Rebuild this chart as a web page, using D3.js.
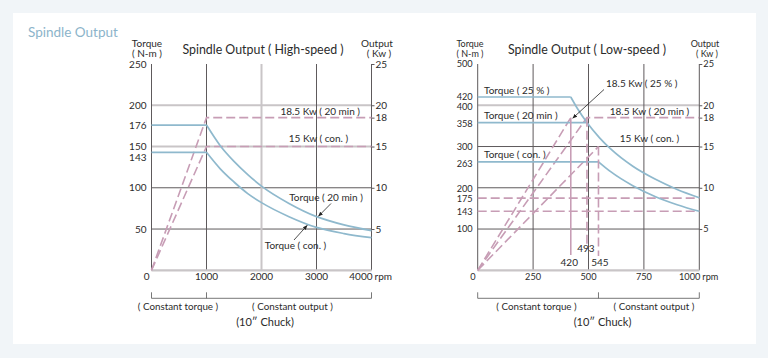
<!DOCTYPE html>
<html><head><meta charset="utf-8">
<script src="https://cdn.jsdelivr.net/npm/d3@7"></script>
<style>
html,body{margin:0;padding:0;background:#f1f5f8;}
svg{display:block;font-family:Lato,"Noto Sans",sans-serif;}
</style></head><body>
<svg id="c" width="768" height="358"></svg>
<script>
// ---------- DATA ----------
// High-speed chart
const hsRpmTicks = [0, 1000, 2000, 3000, 4000];
const hsTorqueTicks = [250, 200, 176, 150, 143, 100, 50];
const hsOutputTickValues = [25, 20, 18.5, 15, 10, 5];
const hsOutputTickLabels = ["25", "20", "18", "15", "10", "5"];
const hsTorque20min = [[0,176],[1000,176],[1250,151],[1500,132],[1750,116],[2000,102],[2500,81],[3000,65],[3500,55],[4000,48]];
const hsTorqueCon   = [[0,143],[1000,143],[1250,123],[1500,107],[1750,93],[2000,82],[2500,65],[3000,52],[3500,44.5],[4000,39.5]];
const hsPower20min  = [[0,0],[1000,18.5],[4000,18.5]];
const hsPowerCon    = [[0,0],[1000,15],[4000,15]];

// Low-speed chart
const lsRpmTicks = [0, 250, 500, 750, 1000];
const lsTorqueTicks = [500, 420, 400, 358, 300, 263, 200, 175, 143, 100];
const lsOutputTickValues = [25, 20, 18.5, 15, 10, 5];
const lsOutputTickLabels = ["25", "20", "18", "15", "10", "5"];
const lsTorque25    = [[0,420],[420,420],[450,392],[493,358],[550,321],[600,294],[700,252],[800,221],[900,196],[1000,176]];
const lsTorque20min = [[0,358],[493,358]];
const lsTorqueCon   = [[0,263],[545,263],[600,239],[700,205],[800,179],[900,159],[1000,143]];
const lsPower25     = [[0,0],[420,18.5]];
const lsPower20min  = [[0,0],[493,18.5],[1000,18.5]];
const lsPowerCon    = [[0,0],[545,15]];
const lsRefTorques  = [175, 143];
const lsCornerRpms  = [420, 493, 545];

// ---------- STYLE ----------
const BLUE = "#8fb9cd", PINK = "#c79db5", DARK = "#5e5a5c", LIGHT = "#c9c5c7", TXT = "#2b2b2b";
const DASH = "9,4";
const svg = d3.select("#c");

svg.append("rect").attr("x",13).attr("y",13).attr("width",743).attr("height",331).attr("fill","#fff");
svg.append("text").attr("x",28).attr("y",37).attr("font-size",13.5).attr("fill","#8cb4ca").text("Spindle Output");

const defs = svg.append("defs");
defs.append("marker").attr("id","ah").attr("viewBox","0 0 10 10").attr("refX",9).attr("refY",5)
  .attr("markerWidth",6).attr("markerHeight",6).attr("orient","auto-start-reverse")
  .append("path").attr("d","M0,1 L10,5 L0,9 z").attr("fill","#222");

function txt(g, x, y, s, size, anchor){
  return g.append("text").attr("x",x).attr("y",y).attr("font-size",size||10)
    .attr("text-anchor",anchor||"middle").attr("fill",TXT).text(s);
}

function chart(cfg){
  const g = svg.append("g");
  const x = d3.scaleLinear().domain(cfg.xDomain).range([cfg.x0, cfg.x1]);
  const y = d3.scaleLinear().domain(cfg.yDomain).range([270.3, 64]);
  const yo = d3.scaleLinear().domain([0,25]).range([270.3, 64]);
  const lin = d3.line().x(d=>x(d[0])).y(d=>y(d[1]));
  const crv = d3.line().x(d=>x(d[0])).y(d=>y(d[1])).curve(d3.curveMonotoneX);
  const lnO = d3.line().x(d=>x(d[0])).y(d=>yo(d[1]));

  // grid
  cfg.hGrid.forEach(([v,light])=>{
    g.append("line").attr("x1",x.range()[0]).attr("x2",x.range()[1]).attr("y1",y(v)).attr("y2",y(v))
      .attr("stroke",light?LIGHT:DARK).attr("stroke-width",light?2:1);
  });
  cfg.vGrid.forEach(([v,light])=>{
    g.append("line").attr("x1",x(v)).attr("x2",x(v)).attr("y1",y.range()[1]).attr("y2",y.range()[0])
      .attr("stroke",light?LIGHT:DARK).attr("stroke-width",light?2:1);
  });
  // frame
  [x.range()[0], x.range()[1]].forEach(xx=>{
    g.append("line").attr("x1",xx).attr("x2",xx).attr("y1",64).attr("y2",270.3).attr("stroke",DARK).attr("stroke-width",1);
  });
  g.append("line").attr("x1",x.range()[0]).attr("x2",x.range()[1]).attr("y1",270.3).attr("y2",270.3)
    .attr("stroke",LIGHT).attr("stroke-width",2.2);

  // left axis labels
  const ax = g.append("g").attr("transform",`translate(${x.range()[0]},0)`)
    .call(d3.axisLeft(y).tickValues(cfg.torqueTicks).tickSize(0).tickPadding(5));
  ax.select(".domain").remove();
  ax.selectAll("text").attr("font-size",cfg.tickSize).attr("fill",TXT).attr("font-family","Lato")
    .attr("transform",d=>`translate(0,${cfg.tickShift[d]||0})`);
  // right axis labels
  const axr = g.append("g").attr("transform",`translate(${x.range()[1]},0)`)
    .call(d3.axisRight(yo).tickValues(cfg.outTickValues).tickFormat((d,i)=>cfg.outTickLabels[i]).tickSize(3).tickPadding(1));
  axr.select(".domain").remove();
  axr.selectAll("line").attr("stroke",DARK);
  axr.selectAll("text").attr("font-size",cfg.tickSize).attr("fill",TXT).attr("font-family","Lato");

  // x labels
  cfg.rpmTicks.forEach((v,i)=>{
    if(i===0) txt(g, x(v)-2, 280, String(v), cfg.tickSize, "end");
    else if(i===cfg.rpmTicks.length-1){
      txt(g, x(v)+1, 280, String(v), cfg.tickSize, "end");
      txt(g, x(v)+3, 280, "rpm", cfg.tickSize, "start");
    } else txt(g, x(v), 280, String(v), cfg.tickSize, "middle");
  });

  // power dashed lines
  cfg.powers.forEach(p=>{
    g.append("path").attr("d",lnO(p)).attr("fill","none").attr("stroke",PINK)
      .attr("stroke-width",1.6).attr("stroke-dasharray",DASH);
  });
  (cfg.refTorques||[]).forEach(v=>{
    g.append("line").attr("x1",x.range()[0]).attr("x2",x.range()[1]).attr("y1",y(v)).attr("y2",y(v))
      .attr("stroke",PINK).attr("stroke-width",1.6).attr("stroke-dasharray",DASH);
  });
  // torque curves: flat part straight, falling part smooth
  cfg.torques.forEach(t=>{
    let k = 1;
    while(k < t.length && t[k][1] === t[0][1]) k++;
    const flat = t.slice(0,k), fall = t.slice(k-1);
    g.append("path").attr("d",lin(flat)).attr("fill","none").attr("stroke",BLUE).attr("stroke-width",1.7);
    if(fall.length>1)
      g.append("path").attr("d",crv(fall)).attr("fill","none").attr("stroke",BLUE).attr("stroke-width",1.7);
  });

  // header labels
  txt(g, cfg.tqLabelX, 46.5, "Torque", cfg.hdrSize);
  txt(g, cfg.tqLabelX, 57, "( N-m )", cfg.hdrSize);
  txt(g, cfg.outLabelX, 46.5, "Output", cfg.hdrSize);
  txt(g, cfg.outLabelX+2, 57, "( Kw )", cfg.hdrSize);
  txt(g, (x.range()[0]+x.range()[1])/2 + cfg.titleDx, 53.5, cfg.title, 12.4);

  // bracket
  const by = 298.3;
  g.append("line").attr("x1",x.range()[0]).attr("x2",x.range()[1]).attr("y1",by).attr("y2",by).attr("stroke","#555").attr("stroke-width",0.8);
  [cfg.xDomain[0], cfg.bracketMid, cfg.xDomain[1]].forEach(v=>{
    g.append("line").attr("x1",x(v)).attr("x2",x(v)).attr("y1",by-6).attr("y2",by).attr("stroke","#555").attr("stroke-width",0.8);
  });
  txt(g, cfg.ctX, 310, "( Constant torque )", 9.8);
  txt(g, cfg.coX, 310, "( Constant output )", 9.8);
  txt(g, cfg.chuckX, 326, "(10\u2033  Chuck)", 11);
  return {g,x,y,yo};
}

// ---------- HIGH SPEED ----------
const L = chart({
  x0:151.5, x1:371.5, xDomain:[0,4000], yDomain:[0,250],
  hGrid:[[200,true],[150,true],[100,false],[50,false]],
  vGrid:[[1000,false],[2000,true],[3000,false]],
  torqueTicks:hsTorqueTicks, outTickValues:hsOutputTickValues, outTickLabels:hsOutputTickLabels,
  tickSize:10, tickShift:{143:4.8},
  rpmTicks:hsRpmTicks, powers:[hsPower20min, hsPowerCon], torques:[hsTorque20min, hsTorqueCon],
  tqLabelX:147, outLabelX:377, hdrSize:10, title:"Spindle Output ( High-speed )", titleDx:1.5,
  bracketMid:1000, ctX:178, coX:292.5, chuckX:265
});
txt(L.g, 360, 115, "18.5 Kw ( 20 min )", 10, "end");
txt(L.g, 318.5, 141.5, "15 Kw ( con. )", 10, "middle");
txt(L.g, 326, 201, "Torque ( 20 min )", 10, "middle");
txt(L.g, 295.5, 248.5, "Torque ( con. )", 10, "middle");
L.g.append("line").attr("x1",331).attr("y1",203.5).attr("x2",L.x(3000)+2).attr("y2",L.y(65)-0.5)
  .attr("stroke","#222").attr("stroke-width",0.8).attr("marker-end","url(#ah)");
L.g.append("line").attr("x1",294).attr("y1",240).attr("x2",L.x(2830)).attr("y2",L.y(55)+0.5)
  .attr("stroke","#222").attr("stroke-width",0.8).attr("marker-end","url(#ah)");

// ---------- LOW SPEED ----------
const R = chart({
  x0:477.7, x1:699.3, xDomain:[0,1000], yDomain:[0,500],
  hGrid:[[400,true],[300,false],[200,false],[100,false]],
  vGrid:[[250,false],[500,false],[750,false]],
  torqueTicks:lsTorqueTicks, outTickValues:lsOutputTickValues, outTickLabels:lsOutputTickLabels,
  tickSize:9.2, tickShift:{420:-0.8, 400:1.6, 358:0.8, 263:1.5, 200:0.5, 175:0.5, 143:0.3},
  rpmTicks:lsRpmTicks, powers:[lsPower25, lsPower20min, lsPowerCon], torques:[lsTorque25, lsTorque20min, lsTorqueCon],
  refTorques:lsRefTorques,
  tqLabelX:470, outLabelX:705, hdrSize:9, title:"Spindle Output ( Low-speed )", titleDx:-1.5,
  bracketMid:545, ctX:536.5, coX:654, chuckX:602.5
});
// corner verticals
R.g.append("line").attr("x1",R.x(lsCornerRpms[0])).attr("x2",R.x(lsCornerRpms[0]))
  .attr("y1",R.yo(18.5)).attr("y2",255).attr("stroke",PINK).attr("stroke-width",1.6);
R.g.append("line").attr("x1",R.x(lsCornerRpms[1])).attr("x2",R.x(lsCornerRpms[1]))
  .attr("y1",R.yo(18.5)).attr("y2",244).attr("stroke",PINK).attr("stroke-width",1.6).attr("stroke-dasharray",DASH);
R.g.append("line").attr("x1",R.x(lsCornerRpms[2])).attr("x2",R.x(lsCornerRpms[2]))
  .attr("y1",R.yo(15)).attr("y2",256).attr("stroke",PINK).attr("stroke-width",1.6).attr("stroke-dasharray",DASH);
txt(R.g, R.x(lsCornerRpms[0])-1.5, 266, String(lsCornerRpms[0]), 10);
txt(R.g, R.x(lsCornerRpms[1])-1, 252, String(lsCornerRpms[1]), 10);
txt(R.g, R.x(lsCornerRpms[2])+1.5, 266, String(lsCornerRpms[2]), 10);

txt(R.g, 484, 93.5, "Torque ( 25 % )", 10, "start");
txt(R.g, 484, 118.5, "Torque ( 20 min )", 10, "start");
txt(R.g, 484, 158, "Torque ( con. )", 10, "start");
txt(R.g, 606, 87, "18.5 Kw ( 25 % )", 10, "start");
txt(R.g, 649.5, 114.5, "18.5 Kw ( 20 min )", 10, "middle");
txt(R.g, 649.5, 142, "15 Kw ( con. )", 10, "middle");
R.g.append("line").attr("x1",604).attr("y1",89.5).attr("x2",R.x(420)+2).attr("y2",R.yo(18.5)+0.5)
  .attr("stroke","#222").attr("stroke-width",0.8).attr("marker-end","url(#ah)");
</script>
</body></html>
